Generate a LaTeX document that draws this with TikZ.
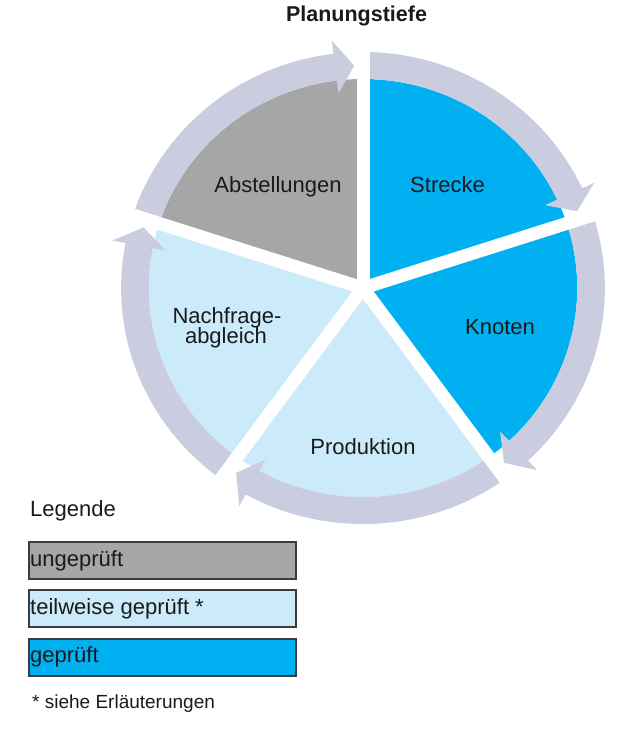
\documentclass[tikz,border=0pt]{standalone}
\usepackage{fontspec}
\setmainfont{Liberation Sans}
\definecolor{ringc}{HTML}{CACCE0}
\definecolor{grayseg}{HTML}{A6A6A6}
\definecolor{lightseg}{HTML}{CCEBFA}
\definecolor{blueseg}{HTML}{00B0F0}
\definecolor{txt}{HTML}{1A1A1A}
\definecolor{boxline}{HTML}{3C3C3C}
\begin{document}
\begin{tikzpicture}[x=1pt,y=1pt,
  lbl/.style={inner sep=0pt, text=txt, font=\fontsize{22}{20}\selectfont, anchor=base},
  leglbl/.style={inner sep=0pt, text=txt, font=\fontsize{22}{20}\selectfont, anchor=base west},
  legbox/.style={draw=boxline, line width=1.5pt, minimum width=267pt, minimum height=37pt, inner sep=0pt, anchor=north west},
  gapline/.style={white, line width=13pt}]
\useasboundingbox (0,0) rectangle (637,-741);
\begin{scope}[shift={(363,-288)}, xscale=1.025]
  % segments
  \fill[grayseg]  (0,0) -- (162:209) arc[start angle=162, end angle=90,   radius=209] -- cycle;
  \fill[blueseg]  (0,0) -- (90:209)  arc[start angle=90,  end angle=18,   radius=209] -- cycle;
  \fill[blueseg]  (0,0) -- (18:209)  arc[start angle=18,  end angle=-54,  radius=209] -- cycle;
  \fill[lightseg] (0,0) -- (-54:209) arc[start angle=-54, end angle=-126, radius=209] -- cycle;
  \fill[lightseg] (0,0) -- (234:209) arc[start angle=234, end angle=162,  radius=209] -- cycle;
  % ring arrows
  \foreach \a/\b in {162/90, 90/18, 18/-54, -54/-126, 234/162} {
    \pgfmathsetmacro{\hb}{\b+7}
    \pgfmathsetmacro{\tp}{\b+2.2}
    \fill[ringc] (\a:236) arc[start angle=\a, end angle=\hb, radius=236]
      -- (\hb:249) -- (\tp:222.5) -- (\hb:196) -- (\hb:209)
      arc[start angle=\hb, end angle=\a, radius=209] -- cycle;
  }
  % gaps
  \foreach \g in {90,18,-54,-126,162} \draw[gapline] (0,0) -- (\g:262);
\end{scope}
\node[lbl, font=\fontsize{21.5}{24}\selectfont\bfseries] (title) at (356.5,-21.5) {Planungstiefe};
\node[lbl] (abst) at (278,-192) {Abstellungen};
\node[lbl] (strecke) at (447.5,-192) {Strecke};
\node[lbl] (knoten) at (500,-334) {Knoten};
\node[lbl] (prod) at (363,-454) {Produktion};
\node[lbl] (nach1) at (227,-323) {Nachfrage-};
\node[lbl] (nach2) at (226,-343) {abgleich};
% legend
\node[leglbl] (legende) at (30,-516) {Legende};
\node[legbox, fill=grayseg]  (box1) at (28,-541) {};
\node[legbox, fill=lightseg] (box2) at (28,-589) {};
\node[legbox, fill=blueseg]  (box3) at (28,-638) {};
\node[leglbl] (t1) at (30,-566) {ungeprüft};
\node[leglbl] (t2) at (30,-614) {teilweise geprüft *};
\node[leglbl] (t3) at (30,-662) {geprüft};
\node[leglbl, font=\fontsize{19}{22}\selectfont] (note) at (32,-708) {* siehe Erläuterungen};
\end{tikzpicture}
\end{document}
